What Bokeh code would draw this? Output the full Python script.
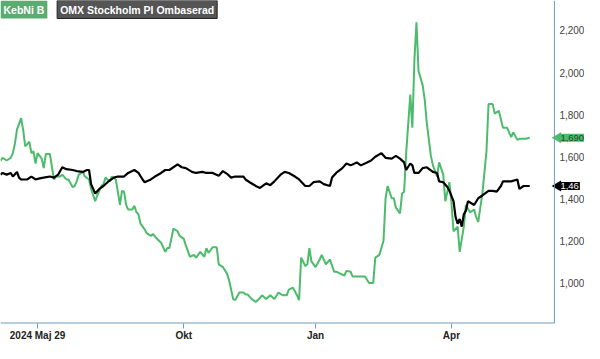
import numpy as np
from bokeh.plotting import figure
from bokeh.models import Range1d, FixedTicker, Label, Span
from bokeh.core.properties import value
from bokeh.embed import file_html
from bokeh.resources import INLINE

# Trading-session index and closing values
green_t = [0, 1, 3, 5, 6, 7, 8, 10, 11, 12, 14, 15, 16, 17, 18, 20, 21, 22, 24, 25,
           26, 27, 29, 30, 32, 33, 35, 36, 37, 38, 40, 41, 43, 44, 46, 47, 49, 50, 51, 53,
           54, 56, 57, 58, 59, 60, 61, 62, 64, 65, 66, 67, 68, 70, 71, 73, 74, 76, 78, 80,
           81, 82, 84, 86, 87, 89, 90, 92, 94, 95, 97, 99, 100, 101, 103, 105, 106, 108, 110, 111,
           113, 114, 116, 118, 119, 120, 122, 124, 125, 127, 129, 131, 133, 135, 137, 139, 140, 142, 144, 145,
           146, 148, 149, 150, 151, 153, 155, 156, 158, 160, 162, 163, 165, 167, 168, 170, 171, 175, 177, 179,
           181, 182, 184, 186, 187, 188, 190, 191, 192, 194, 195, 196, 197, 199, 200, 201, 202, 203, 205, 206,
           207, 209, 210, 212, 213, 215, 216, 218, 219, 220, 222, 223, 225, 226, 228, 230, 231, 232, 234, 236,
           237, 239, 240, 242, 244, 246, 248, 249, 251, 252, 255, 257]
green_v = [1582, 1595, 1582, 1595, 1617, 1662, 1729, 1783, 1729, 1649, 1671, 1617, 1626, 1568, 1617, 1591, 1546, 1613, 1613, 1550,
           1492, 1506, 1506, 1515, 1492, 1492, 1456, 1461, 1483, 1515, 1528, 1506, 1492, 1447, 1389, 1416, 1461, 1470, 1501, 1483,
           1506, 1492, 1434, 1371, 1438, 1434, 1371, 1349, 1349, 1367, 1336, 1327, 1282, 1255, 1237, 1224, 1233, 1210, 1192, 1148,
           1166, 1166, 1259, 1246, 1224, 1210, 1179, 1125, 1134, 1121, 1148, 1125, 1166, 1143, 1170, 1170, 1089, 1076, 1045, 1013,
           924, 919, 955, 955, 946, 946, 924, 911, 919, 942, 924, 942, 924, 955, 942, 942, 969, 978, 942, 919,
           1121, 1081, 1089, 1166, 1103, 1076, 1112, 1134, 1089, 1112, 1054, 1054, 1045, 1036, 1058, 1054, 1031, 1031, 1031, 1000,
           1000, 1121, 1134, 1201, 1403, 1461, 1403, 1403, 1358, 1331, 1425, 1434, 1617, 1895, 1738, 2060, 2239, 2007, 1940, 1872,
           1761, 1604, 1559, 1506, 1573, 1515, 1389, 1479, 1380, 1246, 1268, 1148, 1268, 1371, 1336, 1349, 1313, 1291, 1425, 1626,
           1850, 1850, 1805, 1818, 1738, 1738, 1693, 1716, 1680, 1685, 1685, 1690]

black_t = [0, 1, 3, 5, 6, 8, 9, 10, 13, 15, 17, 19, 21, 24, 26, 28, 30, 32, 35, 37,
           40, 42, 43, 44, 46, 48, 50, 52, 55, 57, 60, 62, 65, 67, 69, 70, 73, 75, 78, 80,
           82, 86, 88, 90, 93, 95, 98, 100, 103, 106, 108, 110, 112, 114, 118, 119, 121, 124, 126, 129,
           131, 133, 136, 138, 140, 143, 145, 148, 150, 152, 155, 157, 160, 161, 163, 166, 168, 170, 173, 175,
           178, 180, 182, 185, 187, 190, 192, 194, 196, 197, 199, 200, 201, 203, 205, 207, 210, 212, 213, 215,
           217, 218, 220, 221, 222, 223, 224, 225, 226, 227, 230, 232, 234, 237, 239, 241, 243, 244, 248, 251,
           252, 254, 256, 257]
black_v = [1515, 1523, 1515, 1523, 1506, 1528, 1501, 1492, 1492, 1506, 1492, 1497, 1501, 1506, 1501, 1515, 1550, 1541, 1537, 1532,
           1528, 1537, 1537, 1470, 1425, 1447, 1461, 1479, 1501, 1506, 1506, 1523, 1537, 1523, 1492, 1479, 1492, 1506, 1523, 1537,
           1537, 1564, 1550, 1546, 1528, 1523, 1528, 1523, 1523, 1510, 1532, 1519, 1501, 1506, 1506, 1492, 1479, 1461, 1452, 1474,
           1465, 1483, 1515, 1528, 1523, 1506, 1492, 1461, 1461, 1479, 1483, 1470, 1461, 1501, 1523, 1546, 1568, 1559, 1573, 1559,
           1573, 1582, 1600, 1617, 1595, 1591, 1604, 1591, 1573, 1537, 1568, 1559, 1523, 1523, 1546, 1550, 1528, 1523, 1483, 1479,
           1456, 1438, 1389, 1313, 1282, 1304, 1268, 1327, 1344, 1389, 1371, 1403, 1416, 1438, 1438, 1434, 1461, 1483, 1483, 1492,
           1447, 1461, 1461, 1461]

x_tick_pos = [18, 89, 153, 219]
x_tick_labels = ["2024 Maj 29", "Okt", "Jan", "Apr"]
y_ticks = [1000, 1200, 1400, 1600, 1800, 2000, 2200]
series_names = ["KebNi B", "OMX Stockholm PI Ombaserad"]

GREEN = "#4cbb6c"
GREEN_BOX = "#5aac70"
BLUE = "#6f9cc2"
FONT = "Liberation Sans"

X_END = 269          # right border of the chart area (session units)
X_MAX = 283.6        # extra room for the price scale
Y_MIN, Y_MAX = 808, 2342

p = figure(width=584, height=343, output_backend="svg", toolbar_location=None,
           x_range=Range1d(0, X_MAX), y_range=Range1d(Y_MIN, Y_MAX),
           y_axis_location=None,
           min_border_left=0, min_border_top=0, min_border_right=0, min_border_bottom=0)
p.outline_line_color = None
p.grid.visible = False
p.background_fill_color = "white"

p.line(green_t, green_v, line_color=GREEN, line_width=2)
p.line(black_t, black_v, line_color="black", line_width=2.2)

# chart borders (right and bottom)
p.add_layout(Span(location=X_END, dimension="height", line_color=BLUE, line_width=1))
p.segment(x0=[0], y0=[Y_MIN], x1=[X_END], y1=[Y_MIN], line_color=BLUE, line_width=2)

xa = p.xaxis[0]
xa.ticker = FixedTicker(ticks=x_tick_pos)
xa.major_label_overrides = {t: l for t, l in zip(x_tick_pos, x_tick_labels)}
xa.axis_line_color = None
xa.major_tick_line_color = BLUE
xa.major_tick_out = 5
xa.major_tick_in = 0
xa.minor_tick_line_color = None
xa.major_label_text_font = FONT
xa.major_label_text_font_size = "10px"
xa.major_label_text_font_style = "bold"
xa.major_label_text_color = "#222222"
xa.major_label_standoff = 1

# price scale on the right
p.text(x=[X_END + 2.4] * len(y_ticks), y=y_ticks, text=[f"{v:,}" for v in y_ticks],
       text_font=value(FONT), text_font_size="10px", text_color="#444444",
       text_align="left", text_baseline="middle")

# Legend boxes
p.add_layout(Label(x=0, y=Y_MAX, text=series_names[0], text_font=FONT,
                   text_font_size="10.5px", text_font_style="bold", text_color="white",
                   background_fill_color=GREEN_BOX, anchor="top_left", padding=3))
p.add_layout(Label(x=27.5, y=Y_MAX, text=series_names[1], text_font=FONT,
                   text_font_size="10.5px", text_font_style="bold", text_color="white",
                   background_fill_color="#555555", anchor="top_left", padding=3,
                   border_line_color="#222222", border_line_width=1))

# Last-value tags
g_last = f"{green_v[-1]:,}"
b_last = f"{black_v[-1]:,}"[:4]
p.scatter(x=[X_END + 1.7, X_END + 1.7], y=[green_v[-1], black_v[-1]], marker="triangle",
          size=11, angle=np.pi / 2, fill_color=[GREEN, "black"], line_color=None)
p.add_layout(Label(x=X_END + 2.4, y=green_v[-1], text=g_last, text_font=FONT,
                   text_font_size="9.5px", text_color="#1e4a28",
                   background_fill_color=GREEN, anchor="center_left", padding=1))
p.add_layout(Label(x=X_END + 2.4, y=black_v[-1], text=b_last, text_font=FONT,
                   text_font_size="9.5px", text_color="white",
                   background_fill_color="black", anchor="center_left", padding=1))

open("out.html", "w").write(file_html(p, INLINE))
